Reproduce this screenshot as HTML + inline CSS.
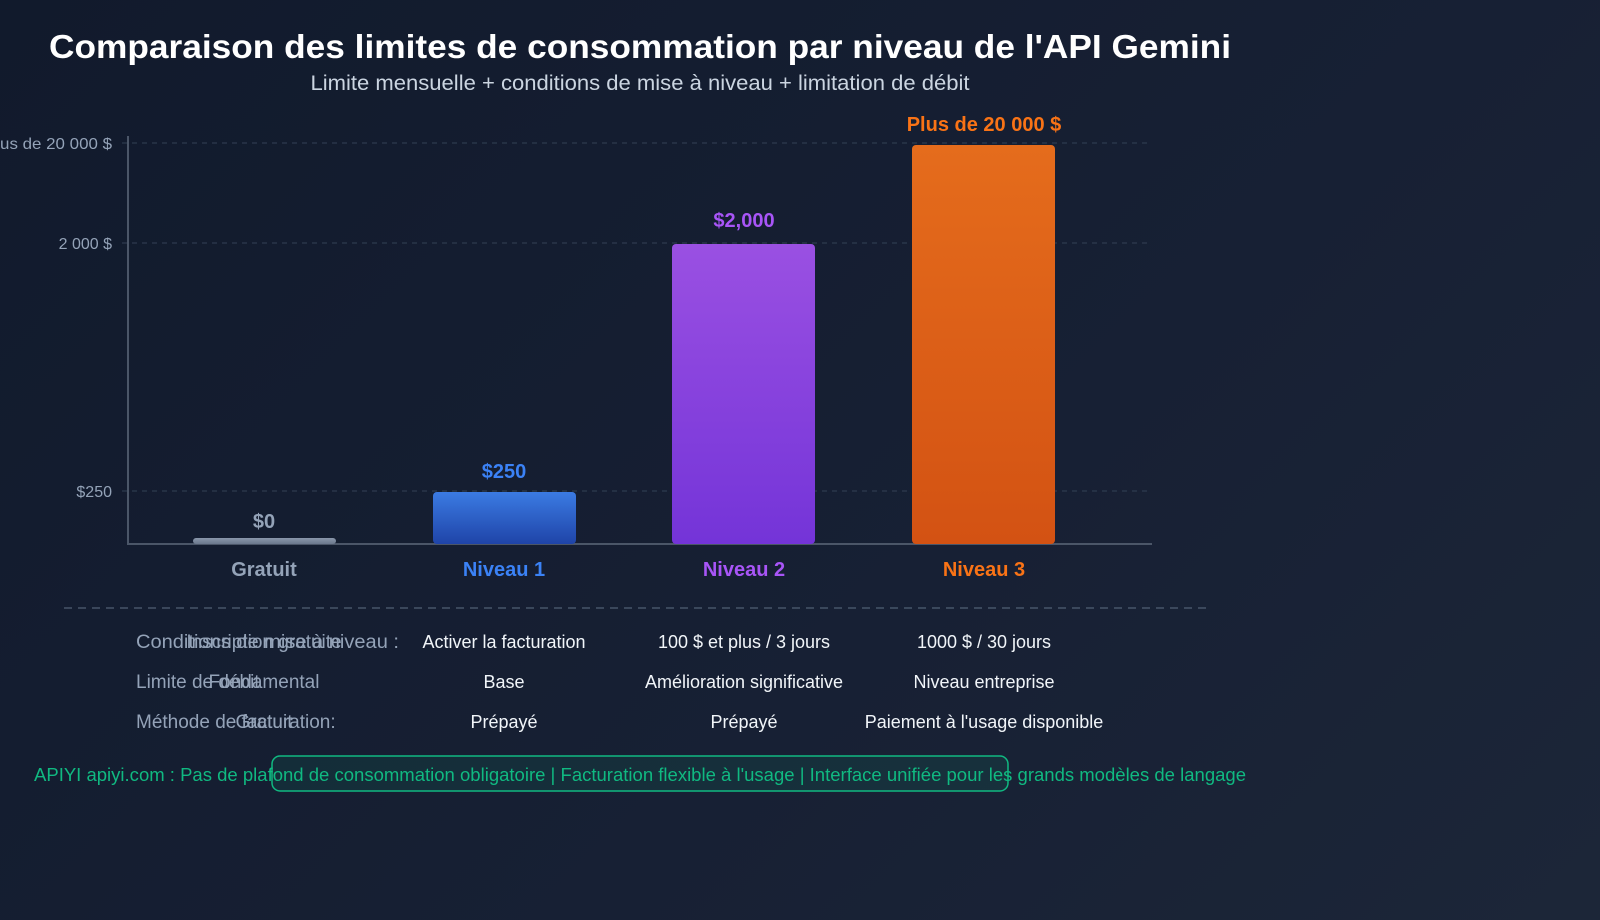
<!DOCTYPE html>
<html><head><meta charset="utf-8"><style>
html,body{margin:0;padding:0;width:1600px;height:920px;overflow:hidden;background:linear-gradient(135deg,#111a2c 0%,#172034 60%,#1c2638 100%);}
svg{display:block;font-family:"Liberation Sans","DejaVu Sans",sans-serif;}
</style></head><body>
<svg width="1600" height="920" viewBox="0 0 1600 920">
<defs>
<linearGradient id="g0" x1="0" y1="0" x2="0" y2="1"><stop offset="0" stop-color="#8a97ab"/><stop offset="1" stop-color="#6b788d"/></linearGradient>
<linearGradient id="g1" x1="0" y1="0" x2="0" y2="1"><stop offset="0" stop-color="#3b7be3"/><stop offset="1" stop-color="#1f44a8"/></linearGradient>
<linearGradient id="g2" x1="0" y1="0" x2="0" y2="1"><stop offset="0" stop-color="#9a50e2"/><stop offset="1" stop-color="#7434d8"/></linearGradient>
<linearGradient id="g3" x1="0" y1="0" x2="0" y2="1"><stop offset="0" stop-color="#e56c1c"/><stop offset="1" stop-color="#d35213"/></linearGradient>
</defs>
<text x="49" y="58" fill="#ffffff" font-size="33" font-weight="bold" textLength="1182" lengthAdjust="spacingAndGlyphs">Comparaison des limites de consommation par niveau de l'API Gemini</text>
<text x="640" y="90" fill="#cbd5e1" font-size="21" text-anchor="middle" textLength="659" lengthAdjust="spacingAndGlyphs">Limite mensuelle + conditions de mise à niveau + limitation de débit</text>
<g stroke="#334155" stroke-width="1" stroke-dasharray="5,5">
<line x1="122" y1="143" x2="1152" y2="143"/>
<line x1="122" y1="243" x2="1152" y2="243"/>
<line x1="122" y1="491" x2="1152" y2="491"/>
</g>
<g fill="#94a3b8" font-size="16" text-anchor="end">
<text x="112" y="149" textLength="127" lengthAdjust="spacingAndGlyphs">Plus de 20 000 $</text>
<text x="112" y="249">2 000 $</text>
<text x="112" y="497">$250</text>
</g>
<line x1="128" y1="136" x2="128" y2="544" stroke="#4b5668" stroke-width="2"/>
<line x1="127" y1="544" x2="1152" y2="544" stroke="#4b5668" stroke-width="2"/>
<rect x="193" y="538" width="143" height="6" rx="3" fill="url(#g0)"/>
<rect x="433" y="492" width="143" height="52" rx="4" fill="url(#g1)"/>
<rect x="672" y="244" width="143" height="300" rx="4" fill="url(#g2)"/>
<rect x="912" y="145" width="143" height="399" rx="4" fill="url(#g3)"/>
<g font-size="20" font-weight="bold" text-anchor="middle">
<text x="264" y="528" fill="#94a3b8">$0</text>
<text x="504" y="478" fill="#3b82f6">$250</text>
<text x="744" y="227" fill="#a855f7">$2,000</text>
<text x="984" y="131" fill="#f97316">Plus de 20 000 $</text>
<text x="264" y="576" fill="#94a3b8">Gratuit</text>
<text x="504" y="576" fill="#3b82f6">Niveau 1</text>
<text x="744" y="576" fill="#a855f7">Niveau 2</text>
<text x="984" y="576" fill="#f97316">Niveau 3</text>
</g>
<line x1="64" y1="608" x2="1208" y2="608" stroke="#475569" stroke-width="1.5" stroke-dasharray="8,6"/>
<g font-size="19" fill="#94a3b8">
<text x="136" y="648" textLength="263" lengthAdjust="spacingAndGlyphs">Conditions de mise à niveau :</text>
<text x="136" y="688">Limite de débit</text>
<text x="136" y="728">Méthode de facturation:</text>
<text x="264" y="648" text-anchor="middle">Inscription gratuite</text>
<text x="264" y="688" text-anchor="middle">Fondamental</text>
<text x="264" y="728" text-anchor="middle">Gratuit</text>
</g>
<g font-size="18" fill="#f1f5f9" text-anchor="middle">
<text x="504" y="648">Activer la facturation</text>
<text x="744" y="648">100 $ et plus / 3 jours</text>
<text x="984" y="648">1000 $ / 30 jours</text>
<text x="504" y="688">Base</text>
<text x="744" y="688">Amélioration significative</text>
<text x="984" y="688">Niveau entreprise</text>
<text x="504" y="728">Prépayé</text>
<text x="744" y="728">Prépayé</text>
<text x="984" y="728">Paiement à l'usage disponible</text>
</g>
<rect x="272" y="756" width="736" height="35" rx="8" fill="rgba(16,185,129,0.1)" stroke="#10b981" stroke-width="1.5"/>
<text x="640" y="781" font-size="18" fill="#10b981" text-anchor="middle" textLength="1212" lengthAdjust="spacingAndGlyphs">APIYI apiyi.com : Pas de plafond de consommation obligatoire | Facturation flexible à l'usage | Interface unifiée pour les grands modèles de langage</text>
</svg>
</body></html>
